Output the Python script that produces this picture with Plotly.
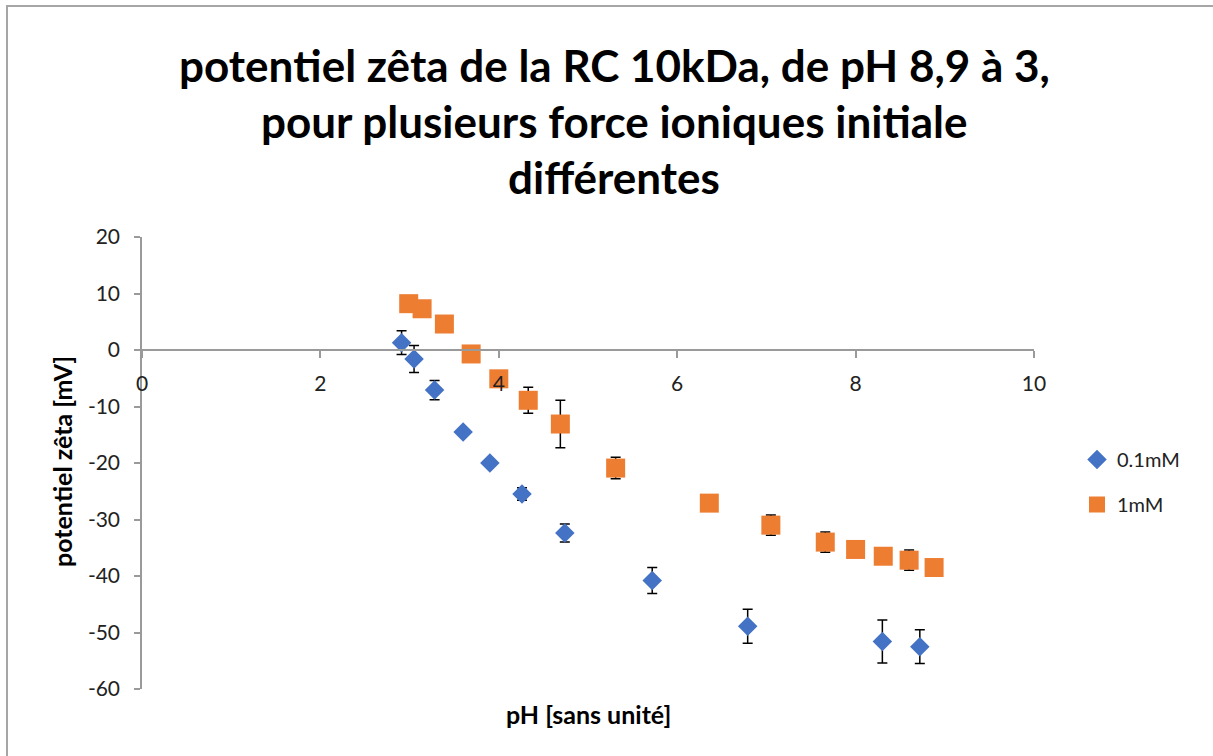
import plotly.graph_objects as go

# pH values and zeta potential (mV) with standard deviations
ph_01mM = [2.91, 3.05, 3.28, 3.60, 3.90, 4.26, 4.74, 5.72, 6.79, 8.30, 8.72]
zeta_01mM = [1.3, -1.6, -7.1, -14.5, -20.0, -25.5, -32.4, -40.8, -48.9, -51.6, -52.5]
err_01mM = [2.1, 2.4, 1.7, 0.4, 0.4, 1.1, 1.6, 2.3, 3.0, 3.8, 3.0]

ph_1mM = [2.99, 3.14, 3.39, 3.69, 4.00, 4.33, 4.69, 5.31, 6.36, 7.05, 7.66, 8.00, 8.31, 8.60, 8.88]
zeta_1mM = [8.2, 7.3, 4.6, -0.7, -5.1, -8.9, -13.1, -20.9, -27.1, -31.0, -34.0, -35.3, -36.5, -37.2, -38.5]
err_1mM = [0.5, 0.5, 0.5, 0.5, 0.5, 2.3, 4.2, 1.9, 0.5, 1.8, 1.8, 0.5, 0.5, 1.8, 0.5]

x_ticks = [0, 2, 4, 6, 8, 10]
y_ticks = [-60, -50, -40, -30, -20, -10, 0, 10, 20]

# a zero-width non-joiner keeps Lato from fusing "ti" into a ligature
NJ = "\u200c"
title_lines = [
    f"poten{NJ}tiel zêta de la RC 10kDa, de pH 8,9 à 3,",
    f"pour plusieurs force ioniques ini{NJ}tiale",
    "différentes",
]
y_title = f"poten{NJ}tiel zêta [mV]"
x_title = "pH [sans unité]"

FONT = "Lato, 'Open Sans', sans-serif"
BLUE = "#4472C4"
ORANGE = "#ED7D31"
AXIS_GRAY = "#9a9a9a"

err_style = dict(type="data", visible=True, color="black", thickness=1.5, width=5)

fig = go.Figure()
fig.add_trace(go.Scatter(
    x=ph_01mM, y=zeta_01mM, mode="markers", name="0.1mM", legendgroup="a",
    marker=dict(symbol="diamond", size=15, color=BLUE),
    error_y=dict(array=err_01mM, **err_style),
))
fig.add_trace(go.Scatter(
    x=ph_1mM, y=zeta_1mM, mode="markers", name="1mM", legendgroup="b",
    marker=dict(symbol="square", size=19, color=ORANGE),
    error_y=dict(array=err_1mM, **err_style),
))

W, H = 1213, 756
L, R, T, B = 142, 1034, 237, 689
pw, ph = R - L, B - T


def px_x(p):
    return (p - L) / pw


def px_y(p):
    return (B - p) / ph


annotations = []
for text, yc in zip(title_lines, [65, 121, 177]):
    annotations.append(dict(
        text=f"<b>{text}</b>", x=px_x(614), y=px_y(yc), xref="paper", yref="paper",
        xanchor="center", yanchor="middle", showarrow=False,
        font=dict(family=FONT, size=44, color="black"),
    ))
annotations.append(dict(
    text=f"<b>{y_title}</b>", x=px_x(62), y=px_y(462), xref="paper", yref="paper",
    xanchor="center", yanchor="middle", textangle=-90, showarrow=False,
    font=dict(family=FONT, size=25, color="black"),
))
annotations.append(dict(
    text=f"<b>{x_title}</b>", x=px_x(588), y=px_y(714), xref="paper", yref="paper",
    xanchor="center", yanchor="middle", showarrow=False,
    font=dict(family=FONT, size=25, color="black"),
))

fig.update_layout(
    width=W, height=H,
    margin=dict(l=L, r=W - R, t=T, b=H - B, pad=0),
    paper_bgcolor="white", plot_bgcolor="white",
    font=dict(family=FONT, size=21, color="#222"),
    showlegend=True,
    legend=dict(
        x=px_x(1077), y=px_y(440), xanchor="left", yanchor="top",
        font=dict(family=FONT, size=20, color="#222"),
        tracegroupgap=16, bgcolor="rgba(0,0,0,0)",
    ),
    annotations=annotations,
    shapes=[dict(
        type="rect", xref="paper", yref="paper",
        x0=px_x(7), x1=px_x(1300), y0=px_y(800), y1=px_y(6),
        line=dict(color="#a6a6a6", width=2), fillcolor="rgba(0,0,0,0)", layer="below",
    )],
    xaxis=dict(
        range=[0, 10], tickvals=x_ticks, ticktext=[str(v) for v in x_ticks],
        showgrid=False, zeroline=False, showline=True, linecolor=AXIS_GRAY, linewidth=1.5,
        ticks="outside", ticklen=7, tickcolor=AXIS_GRAY, tickwidth=1.5,
        ticklabelstandoff=8,
        anchor="free", position=60 / 80,
    ),
    yaxis=dict(
        range=[-60, 20], tickvals=y_ticks, ticktext=[str(v) for v in y_ticks],
        showgrid=False, zeroline=False, showline=True, linecolor=AXIS_GRAY, linewidth=1.5,
        ticks="outside", ticklen=6, tickcolor=AXIS_GRAY, tickwidth=1.5,
        ticklabelstandoff=10,
    ),
)

fig.write_html("out.html")
